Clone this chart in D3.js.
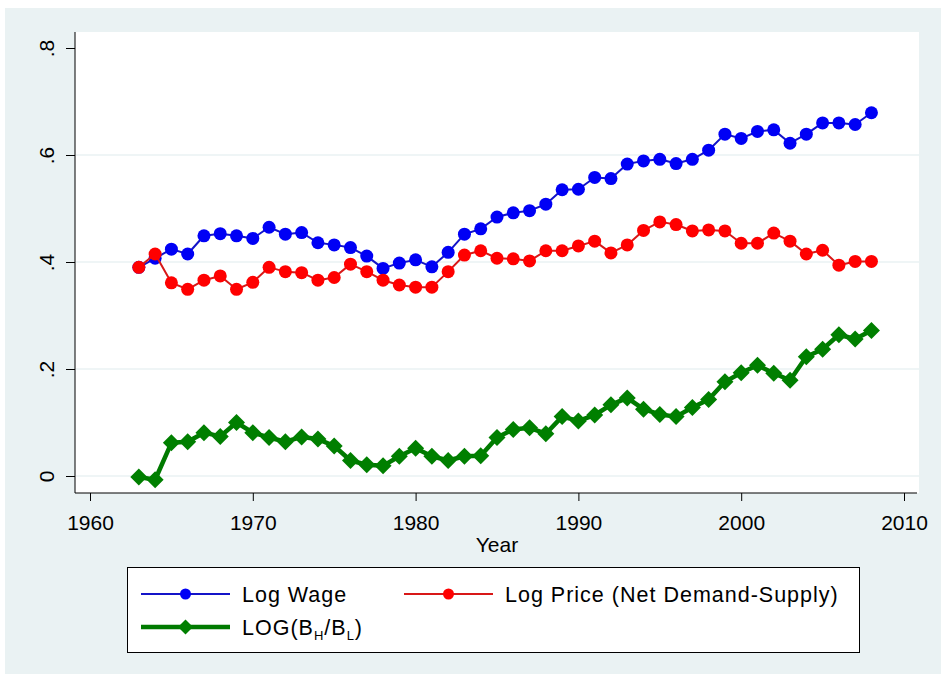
<!DOCTYPE html>
<html>
<head>
<meta charset="utf-8">
<script src="https://cdn.jsdelivr.net/npm/d3@7"></script>
<style>
  body { margin: 0; background: #fff; }
  svg { display: block; font-family: "Liberation Sans", Arial, sans-serif; }
</style>
</head>
<body>
<div id="chart"></div>
<script>
// years 1963..2008
const years = d3.range(1963, 2009);

const logWage = [0.390, 0.407, 0.424, 0.415, 0.449, 0.453, 0.449, 0.444, 0.465, 0.452,
  0.455, 0.436, 0.432, 0.427, 0.411, 0.388, 0.398, 0.404, 0.391, 0.418,
  0.452, 0.462, 0.484, 0.492, 0.496, 0.508, 0.535, 0.536, 0.558, 0.556,
  0.583, 0.589, 0.592, 0.584, 0.592, 0.609, 0.639, 0.631, 0.644, 0.647,
  0.622, 0.639, 0.660, 0.660, 0.657, 0.679];

const logPrice = [0.390, 0.415, 0.361, 0.349, 0.366, 0.374, 0.349, 0.362, 0.390, 0.382,
  0.380, 0.366, 0.371, 0.396, 0.382, 0.366, 0.357, 0.353, 0.353, 0.382,
  0.413, 0.421, 0.407, 0.406, 0.402, 0.421, 0.421, 0.430, 0.439, 0.417,
  0.432, 0.459, 0.475, 0.470, 0.458, 0.460, 0.458, 0.435, 0.435, 0.454,
  0.439, 0.415, 0.422, 0.394, 0.401, 0.401];

const logB = [-0.002, -0.007, 0.062, 0.064, 0.081, 0.074, 0.100, 0.081, 0.072, 0.064,
  0.073, 0.069, 0.056, 0.029, 0.021, 0.019, 0.037, 0.052, 0.037, 0.029,
  0.037, 0.038, 0.072, 0.087, 0.090, 0.079, 0.111, 0.103, 0.114, 0.133,
  0.146, 0.125, 0.115, 0.111, 0.128, 0.143, 0.176, 0.193, 0.207, 0.192,
  0.179, 0.223, 0.237, 0.264, 0.256, 0.272];

const xTicks = [1960, 1970, 1980, 1990, 2000, 2010];
const yTicks = [0, 0.2, 0.4, 0.6, 0.8];
const yTickLabels = ["0", ".2", ".4", ".6", ".8"];

const W = 941, H = 674;
const plot = {left: 75, right: 919, top: 32, bottom: 493};
const FONT = "Liberation Sans, Arial, sans-serif";

const svg = d3.select("#chart").append("svg")
  .attr("width", W).attr("height", H);

// stata-ish background
svg.append("rect").attr("x", 5).attr("y", 8).attr("width", W - 5).attr("height", H - 8)
  .attr("fill", "#eaf2f3");
svg.append("rect").attr("x", plot.left).attr("y", plot.top)
  .attr("width", plot.right - plot.left).attr("height", plot.bottom - plot.top)
  .attr("fill", "#fff");

const x = d3.scaleLinear().domain([1960, 2010]).range([90, 904]);
const y = d3.scaleLinear().domain([0, 0.8]).range([476, 48]);

// grid lines
svg.append("g").selectAll("line")
  .data(yTicks.filter(d => d < 0.8))
  .enter().append("line")
  .attr("x1", plot.left + 1).attr("x2", plot.right)
  .attr("y1", d => y(d)).attr("y2", d => y(d))
  .attr("stroke", "#eaf2f3").attr("stroke-width", 1.5);

// axes
const yAxis = svg.append("g")
  .attr("transform", `translate(${plot.left},0)`)
  .call(d3.axisLeft(y).tickValues(yTicks).tickFormat((d, i) => yTickLabels[i]).tickSize(9).tickSizeOuter(0));
yAxis.select(".domain").attr("d", `M0,${plot.top}V${plot.bottom}`).attr("stroke", "#000");
yAxis.selectAll(".tick line").attr("stroke", "#000");
yAxis.selectAll(".tick text")
  .attr("x", 0).attr("dy", 0)
  .attr("transform", "translate(-21,0) rotate(-90)")
  .attr("text-anchor", "middle")
  .attr("font-size", 21).attr("fill", "#000")
  .attr("font-family", FONT);

const xAxis = svg.append("g")
  .attr("transform", `translate(0,${plot.bottom})`)
  .call(d3.axisBottom(x).tickValues(xTicks).tickFormat(d3.format("d")).tickSize(8).tickSizeOuter(0));
xAxis.select(".domain").attr("d", `M${plot.left},0H${plot.right - 2}`).attr("stroke", "#000");
xAxis.selectAll(".tick line").attr("stroke", "#000");
xAxis.selectAll(".tick text")
  .attr("y", 22).attr("dy", "0.71em")
  .attr("font-size", 21).attr("fill", "#000")
  .attr("font-family", FONT);

svg.append("text").attr("x", (x(1980) + x(1990)) / 2).attr("y", 552)
  .attr("text-anchor", "middle").attr("font-size", 21).text("Year");

// series
const series = [
  {name: "wage", values: logWage, line: "#1414c8", fill: "#0000f5", width: 2, marker: "circle", size: 6.5},
  {name: "price", values: logPrice, line: "#d81818", fill: "#ff0000", width: 2, marker: "circle", size: 6.5},
  {name: "b", values: logB, line: "#007a00", fill: "#007f00", width: 4.5, marker: "diamond", size: 8.5}
];

const line = d3.line().x((d, i) => x(years[i])).y(d => y(d));

function drawMarker(g, type, r, fill) {
  if (type === "circle") {
    g.append("circle").attr("r", r).attr("fill", fill);
  } else {
    g.append("path").attr("d", `M0,${-r}L${r},0L0,${r}L${-r},0Z`).attr("fill", fill);
  }
}

// draw in stata order: wage, price, then B on top
series.forEach(s => {
  const g = svg.append("g");
  g.append("path").datum(s.values).attr("d", line)
    .attr("fill", "none").attr("stroke", s.line).attr("stroke-width", s.width)
    .attr("stroke-linejoin", "round");
  g.selectAll("g.pt").data(s.values).enter().append("g")
    .attr("class", "pt")
    .attr("transform", (d, i) => `translate(${x(years[i])},${y(d)})`)
    .each(function() { drawMarker(d3.select(this), s.marker, s.size, s.fill); });
});

// legend
const leg = svg.append("g");
leg.append("rect").attr("x", 127.5).attr("y", 567.5).attr("width", 732).attr("height", 85)
  .attr("fill", "#fff").attr("stroke", "#000").attr("stroke-width", 1);

const legItems = [
  {s: series[0], x0: 141, y0: 594, label: "Log Wage"},
  {s: series[1], x0: 404, y0: 594, label: "Log Price (Net Demand-Supply)"},
  {s: series[2], x0: 141, y0: 627, label: null}
];
legItems.forEach(it => {
  leg.append("line").attr("x1", it.x0).attr("x2", it.x0 + 89)
    .attr("y1", it.y0).attr("y2", it.y0)
    .attr("stroke", it.s.line).attr("stroke-width", it.s.width);
  const m = leg.append("g").attr("transform", `translate(${it.x0 + 44.5},${it.y0})`);
  drawMarker(m, it.s.marker, it.s.marker === "circle" ? 5.5 : 7.5, it.s.fill);
  const t = leg.append("text").attr("x", it.x0 + 101).attr("y", it.y0 + 7.5)
    .attr("font-size", 21.5).attr("fill", "#000").attr("letter-spacing", 1);
  if (it.label) {
    t.text(it.label);
  } else {
    t.append("tspan").text("LOG(B");
    t.append("tspan").attr("font-size", 13).attr("dy", 5).text("H");
    t.append("tspan").attr("dy", -5).text("/B");
    t.append("tspan").attr("font-size", 13).attr("dy", 5).text("L");
    t.append("tspan").attr("dy", -5).text(")");
  }
});
</script>
</body>
</html>
